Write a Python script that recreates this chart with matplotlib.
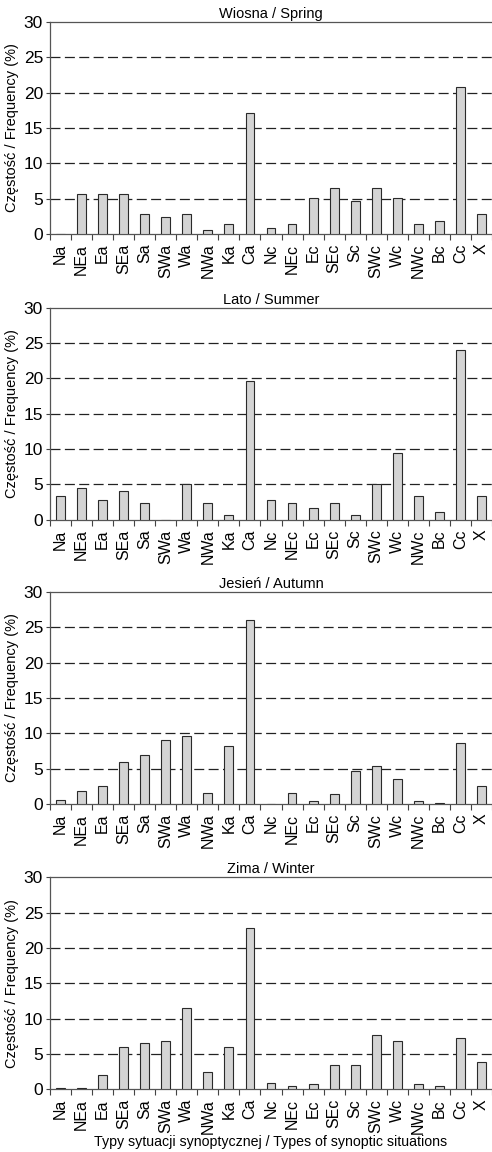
import numpy as np
import matplotlib
matplotlib.use('Agg')
import matplotlib.pyplot as plt
from matplotlib.ticker import FixedLocator

plt.rcParams['font.family'] = ['Liberation Sans Narrow', 'Liberation Sans', 'DejaVu Sans']

types = ['Na', 'NEa', 'Ea', 'SEa', 'Sa', 'SWa', 'Wa', 'NWa', 'Ka', 'Ca',
         'Nc', 'NEc', 'Ec', 'SEc', 'Sc', 'SWc', 'Wc', 'NWc', 'Bc', 'Cc', 'X']

spring = [0, 5.6, 5.6, 5.6, 2.8, 2.4, 2.8, 0.5, 1.4, 17.1,
          0.9, 1.4, 5.1, 6.5, 4.6, 6.5, 5.1, 1.4, 1.9, 20.8, 2.8]
summer = [3.4, 4.5, 2.8, 4.0, 2.3, 0, 5.1, 2.3, 0.6, 19.6,
          2.8, 2.3, 1.7, 2.3, 0.6, 5.1, 9.5, 3.4, 1.1, 24.0, 3.4]
autumn = [0.6, 1.8, 2.5, 5.9, 7.0, 9.0, 9.6, 1.6, 8.2, 26.0,
          0, 1.6, 0.4, 1.4, 4.6, 5.4, 3.5, 0.4, 0.2, 8.6, 2.5]
winter = [0.2, 0.2, 2.0, 6.0, 6.5, 6.8, 11.5, 2.5, 6.0, 22.8,
          0.9, 0.5, 0.7, 3.4, 3.4, 7.7, 6.8, 0.7, 0.5, 7.2, 3.9]

titles = ['Wiosna / Spring', 'Lato / Summer', 'Jesień / Autumn', 'Zima / Winter']
seasons = [spring, summer, autumn, winter]

fig = plt.figure(figsize=(4.92, 11.52), dpi=100)
H = 1152.0
tops = [22, 307.7, 592, 877.3]
ph = 212.0
x = np.arange(len(types))

for k, (vals, title) in enumerate(zip(seasons, titles)):
    bottom = 1 - (tops[k] + ph) / H
    ax = fig.add_axes([50 / 492, bottom, 442 / 492, ph / H])
    ax.bar(x, vals, width=0.42, color='#d4d4d4', edgecolor='#2a2a2a',
           linewidth=0.8, zorder=3)
    ax.set_xlim(-0.5, len(types) - 0.5)
    ax.set_ylim(0, 30)
    ax.set_yticks([0, 5, 10, 15, 20, 25, 30])
    for yv in [5, 10, 15, 20, 25]:
        ax.axhline(yv, color='#222222', lw=0.9, ls=(0, (8, 3.5)), zorder=1)
    ax.set_xticks(x)
    ax.set_xticklabels(types, rotation=90, fontsize=11.5)
    ax.xaxis.set_minor_locator(FixedLocator(np.arange(-0.5, len(types), 1.0)))
    ax.tick_params(axis='x', which='major', length=0, pad=7)
    ax.tick_params(axis='x', which='minor', length=4, width=0.8, color='#444444')
    ax.tick_params(axis='y', length=3, width=0.8, color='#444444',
                   labelsize=12.5, pad=2)
    ax.spines['right'].set_visible(False)
    for s in ['left', 'top', 'bottom']:
        ax.spines[s].set_color('#555555')
        ax.spines[s].set_linewidth(0.9)
    ax.set_title(title, fontsize=10.5, pad=3)
    ax.set_ylabel('Częstość / Frequency (%)', fontsize=10.5, labelpad=3)
    if k == 3:
        ax.set_xlabel('Typy sytuacji synoptycznej / Types of synoptic situations',
                      fontsize=10.2, labelpad=1)

fig.savefig('out.png', dpi=100)
